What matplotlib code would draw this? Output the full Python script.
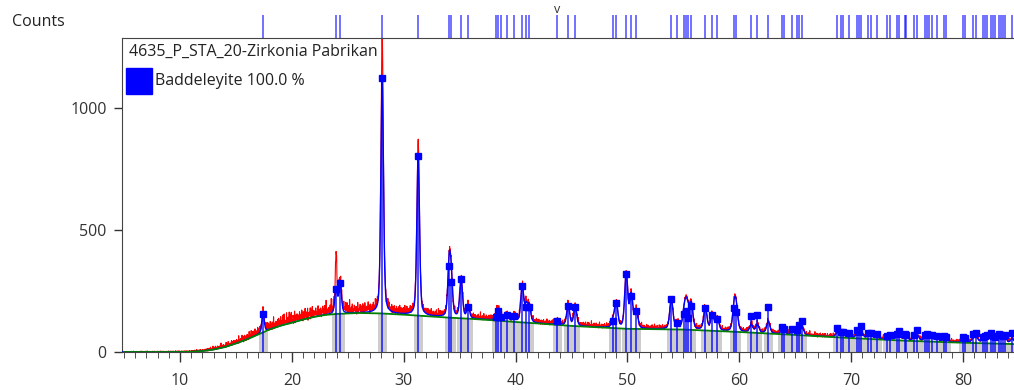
import numpy as np
import matplotlib
matplotlib.use('Agg')
import matplotlib.pyplot as plt
from matplotlib.patches import Rectangle

plt.rcParams['font.family'] = ['Open Sans', 'DejaVu Sans']

# reflection positions (2theta) and stick heights (counts) of Baddeleyite
peak_pos = [17.42, 23.95, 24.31, 28.07, 31.29, 34.06, 34.24, 35.13, 35.76, 38.26,
            38.44, 38.71, 39.25, 39.87, 40.59, 40.95, 41.22, 43.72, 44.70, 45.33,
            48.73, 49.00, 49.89, 50.34, 50.79, 53.92, 54.45, 55.08, 55.26, 55.44,
            55.71, 56.96, 57.59, 58.03, 59.55, 59.73, 61.07, 61.61, 62.59, 63.85,
            64.03, 64.74, 65.19, 65.37, 65.64, 68.77, 69.12, 69.30, 69.84, 70.55,
            70.73, 70.91, 71.54, 71.81, 72.34, 73.24, 73.51, 74.13, 74.31, 74.85,
            74.94, 75.65, 75.92, 76.64, 76.82, 77.00, 77.26, 77.71, 78.34, 78.52,
            80.04, 80.21, 80.93, 81.20, 81.82, 82.00, 82.18, 82.54, 82.72, 82.90,
            83.26, 83.44, 83.61, 83.79, 84.42]
peak_h = [156, 258, 283, 1123, 803, 352, 287, 299, 184, 144,
          170, 144, 152, 148, 270, 185, 185, 127, 189, 185,
          127, 200, 320, 230, 168, 217, 119, 156, 168, 140,
          189, 180, 152, 135, 180, 164, 148, 152, 185, 102,
          95, 94, 90, 111, 127, 100, 82, 80, 78, 90,
          84, 107, 78, 76, 72, 66, 68, 74, 86, 72,
          70, 70, 90, 70, 72, 70, 68, 66, 66, 60,
          61, 58, 72, 78, 62, 66, 70, 78, 66, 60,
          72, 70, 64, 70, 78]

# background (green)
bg_x = [5, 10, 11, 12, 13, 14, 15, 16, 17, 18, 19, 20, 21, 22, 23, 24, 26, 28, 30,
        32, 34, 36, 38, 40, 42, 45, 50, 55, 58, 60, 65, 70, 75, 80, 85]
bg_y = [0, 0, 1, 4, 10, 20, 35, 52, 72, 92, 108, 120, 133, 144, 152, 156, 160, 158, 153,
        147, 141, 136, 130, 123, 117, 107, 95, 92, 86, 82, 70, 57, 46, 38, 32]

# extra observed intensity above the fit at the strongest lines
obs_pos = [23.95, 28.07, 31.29]
obs_extra = [140, 200, 66]

# how far the measured scan sits above the fit, and its noise level
off_x = [5, 12, 16, 20, 24, 27, 30, 40, 50, 85]
off_y = [0, 1, 4, 8, 10, 9, 5, 3, 2, 1]
noise_x = [5, 11, 14, 18, 22, 26, 30, 35, 45, 60, 75, 85]
noise_amp = [3, 6, 18, 38, 48, 42, 32, 24, 20, 17, 15, 14]
resid_a = [0.1, -0.2, 0.15, 0.05, -0.1, 0.9, 0.2, -0.15, 0.0, 0.1, -0.25, 0.3, 0.05,
           -0.1, 0.6, 0.1, -0.2, 0.0, 0.15, -0.05, 1.0, 0.2, -0.1, 0.05, -0.2, 0.1,
           0.35, -0.15, 0.0, 0.2, -0.1, 0.75, 0.1, -0.2, 0.05, 0.15, -0.1, 0.0, 0.45,
           -0.15, 0.1, -0.05, 0.2, 0.85, -0.1, 0.05, -0.2]
resid_b = [0.0, 0.1, -0.15, 0.5, -0.05, 0.1, -0.2, 0.05, 0.25, -0.1, 0.0, 0.7, -0.15,
           0.1, -0.05, 0.2, -0.25, 0.05, 0.4, 0.0, -0.1, 0.15, -0.2, 0.3, 0.05, -0.1,
           0.1, 0.55, -0.05]
resid_c = [0.2, -0.1, 0.0, 0.3, -0.4, 0.1, 0.6, -0.1, 0.0, -0.3, 0.15, 0.0, 0.4,
           -0.15, 0.05, -0.35, 0.8, 0.0, -0.2, 0.1, 0.25, -0.1, 0.0]

tt = np.arange(4.8, 84.6, 0.02)
bg = np.interp(tt, bg_x, bg_y)

def pv(x, c, w, eta=0.4):
    g = np.exp(-4 * np.log(2) * ((x - c) / w) ** 2)
    l = 1 / (1 + 4 * ((x - c) / w) ** 2)
    return (1 - eta) * g + eta * l

calc = bg.copy()
for p, h in zip(peak_pos, peak_h):
    amp = max(h - np.interp(p, bg_x, bg_y), 0)
    if p > 60:
        amp *= 0.45
    calc += amp * pv(tt, p, 0.22 + 0.002 * p)

obs = calc + np.interp(tt, off_x, off_y)
for p, e in zip(obs_pos, obs_extra):
    obs += e * pv(tt, p, 0.12)
r = (np.resize(resid_a, tt.size) + 0.6 * np.resize(resid_b, tt.size)
     + 0.6 * np.resize(resid_c, tt.size)) / 1.4
obs += np.interp(tt, noise_x, noise_amp) * r

fig = plt.figure(figsize=(10.14, 3.9), dpi=100)
ax = fig.add_axes([122 / 1014, 38 / 390, 1 - 122 / 1014, 314 / 390])

bar_h = np.interp(peak_pos, bg_x, bg_y)
ax.bar(peak_pos, bar_h, width=0.8, color='#cccccc', zorder=1)
ax.plot(tt, obs, color='red', lw=0.8, zorder=2)
ax.plot(tt, calc, color='blue', lw=1, zorder=3)
ax.plot(bg_x, bg_y, color='green', lw=1.3, zorder=4)
ax.vlines(peak_pos, 0, peak_h, color='blue', alpha=0.7, lw=1.4, zorder=5)
ax.plot(peak_pos, peak_h, 's', color='blue', ms=5, zorder=6)

ax.set_xlim(4.81, 84.56)
ax.set_ylim(0, 1287)
ax.set_xticks([10, 20, 30, 40, 50, 60, 70, 80])
ax.set_xticks(np.arange(5, 85, 1), minor=True)
ax.set_yticks([0, 500, 1000])
ax.tick_params(axis='both', labelsize=11.5, colors='#333333', width=1)
ax.tick_params(axis='x', which='major', length=7, pad=8)
ax.tick_params(axis='x', which='minor', length=4, color='#333333')
ax.tick_params(axis='y', length=6, pad=5)
for s in ['left', 'top', 'bottom']:
    ax.spines[s].set_color('#444444')
ax.spines['right'].set_visible(False)

ax.text(0.008, 0.98, '4635_P_STA_20-Zirkonia Pabrikan', transform=ax.transAxes,
        fontsize=11.5, va='top', ha='left', color='#222222', zorder=8)
ax.add_patch(Rectangle((0.005, 0.823), 0.029, 0.082, transform=ax.transAxes,
                       color='blue', zorder=8))
ax.text(0.037, 0.862, 'Baddeleyite 100.0 %', transform=ax.transAxes,
        fontsize=11.5, va='center', ha='left', color='#222222', zorder=8)

top = fig.add_axes([122 / 1014, 352 / 390, 1 - 122 / 1014, 23 / 390])
top.vlines(peak_pos, 0, 1, color='blue', alpha=0.6, lw=1.3)
top.text(43.72, 0.95, 'v', ha='center', va='bottom', fontsize=9, color='#333333')
top.set_xlim(4.81, 84.56)
top.set_ylim(0, 1)
top.axis('off')

fig.text(12 / 1014, 1 - 22 / 390, 'Counts', fontsize=11.5, va='center', color='#222222')

fig.savefig('out.png', dpi=100)
